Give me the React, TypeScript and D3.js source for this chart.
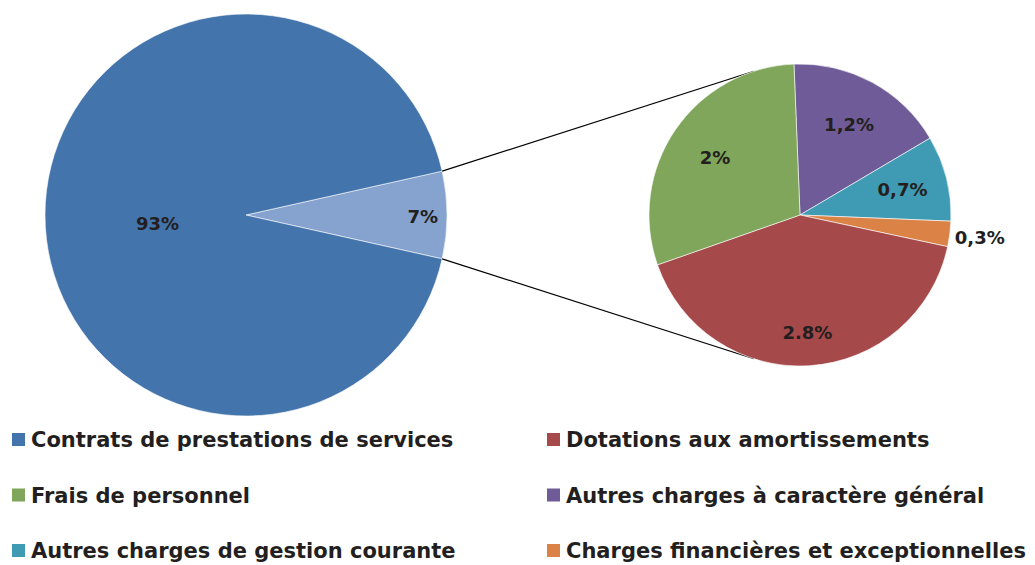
import * as d3 from "d3";

// big pie: share of total
const mainLabels = ["7%", "93%"];
const mainValues = [7, 93];
const mainColors = ["#86A2CF", "#4374AB"];

// detail of the 7% slice
const detailNames = [
  "Autres charges à caractère général",
  "Autres charges de gestion courante",
  "Charges financières et exceptionnelles",
  "Dotations aux amortissements",
  "Frais de personnel",
];
const detailValues = [1.2, 0.64, 0.19, 2.89, 2.08];
const detailLabels = ["1,2%", "0,7%", "0,3%", "2.8%", "2%"];
const detailColors = ["#6F5B97", "#3F9BB3", "#DB8347", "#A5494A", "#7FA65A"];

// legend, two columns
const legendNames = [
  "Contrats de prestations de services",
  "Dotations aux amortissements",
  "Frais de personnel",
  "Autres charges à caractère général",
  "Autres charges de gestion courante",
  "Charges financières et exceptionnelles",
];
const legendColors = ["#4374AB", "#A5494A", "#7FA65A", "#6F5B97", "#3F9BB3", "#DB8347"];

const W = 1035;
const H = 565;
const FONT = "'DejaVu Sans', sans-serif";
const TXT = "#231F20";

export default function App() {
  const rad = Math.PI / 180;

  // main pie, small slice centred on the right (east)
  const cx1 = 246, cy1 = 215, r1 = 201;
  const half = (mainValues[0] / 100) * 180;
  const mainPie = d3
    .pie<number>()
    .sort(null)
    .startAngle((90 - half) * rad)
    .endAngle((450 - half) * rad)(mainValues);
  const arc1 = d3.arc<d3.PieArcDatum<number>>().innerRadius(0).outerRadius(r1);

  // detail pie
  const cx2 = 800, cy2 = 215, r2 = 151;
  const start2 = -2.3 * rad;
  const detailPie = d3
    .pie<number>()
    .sort(null)
    .startAngle(start2)
    .endAngle(start2 + 2 * Math.PI)(detailValues);
  const arc2 = d3.arc<d3.PieArcDatum<number>>().innerRadius(0).outerRadius(r2);

  // label positions (radius fraction, per slice)
  const mainLabelPos = [
    { r: 0.88, dy: 1 },
    { r: 0.44, dy: 8 },
  ];
  const detailLabelPos = [0.68, 0.7, 1.2, 0.78, 0.68];

  // connector lines: tangents from slice edge points to the detail pie
  const s = mainPie[0];
  const edge = (a: number) => [cx1 + r1 * Math.sin(a), cy1 - r1 * Math.cos(a)];
  const tangent = (p: number[], up: boolean) => {
    const dx = cx2 - p[0], dy = cy2 - p[1];
    const d = Math.hypot(dx, dy);
    const base = Math.atan2(dy, dx);
    const off = Math.asin(r2 / d);
    const ang = up ? base - off : base + off;
    const len = Math.sqrt(d * d - r2 * r2);
    return [p[0] + len * Math.cos(ang), p[1] + len * Math.sin(ang)];
  };
  const pTop = edge(s.startAngle);
  const pBot = edge(s.endAngle);
  const tTop = tangent(pTop, true);
  const tBot = tangent(pBot, false);

  const rows = d3.scalePoint<number>().domain([0, 1, 2]).range([440, 551]);
  const cols = [12, 547];

  return (
    <svg width={W} height={H} style={{ position: "absolute", left: 0, top: 0, background: "#fff" }}>
      <g transform={`translate(${cx1},${cy1})`}>
        {mainPie.map((d, i) => (
          <path key={i} d={arc1(d) || ""} fill={mainColors[i]} stroke="#fff" strokeWidth={0.6} />
        ))}
        {mainPie.map((d, i) => {
          const a = (d.startAngle + d.endAngle) / 2;
          const rr = r1 * mainLabelPos[i].r;
          return (
            <text
              key={i}
              x={rr * Math.sin(a)}
              y={-rr * Math.cos(a) + mainLabelPos[i].dy}
              textAnchor="middle"
              dominantBaseline="central"
              fontFamily={FONT}
              fontWeight={700}
              fontSize={18}
              fill={TXT}
            >
              {mainLabels[i]}
            </text>
          );
        })}
      </g>

      <line x1={pTop[0]} y1={pTop[1]} x2={tTop[0]} y2={tTop[1]} stroke="#000" strokeWidth={1.2} />
      <line x1={pBot[0]} y1={pBot[1]} x2={tBot[0]} y2={tBot[1]} stroke="#000" strokeWidth={1.2} />

      <g transform={`translate(${cx2},${cy2})`}>
        {detailPie.map((d, i) => (
          <path key={i} d={arc2(d) || ""} fill={detailColors[i]} stroke="#fff" strokeWidth={0.6}>
            <title>{detailNames[i]}</title>
          </path>
        ))}
        {detailPie.map((d, i) => {
          const a = (d.startAngle + d.endAngle) / 2;
          const rr = r2 * detailLabelPos[i];
          return (
            <text
              key={i}
              x={rr * Math.sin(a)}
              y={-rr * Math.cos(a)}
              textAnchor="middle"
              dominantBaseline="central"
              fontFamily={FONT}
              fontWeight={700}
              fontSize={18}
              fill={TXT}
            >
              {detailLabels[i]}
            </text>
          );
        })}
      </g>

      <g>
        {legendNames.map((name, i) => {
          const x = cols[i % 2];
          const y = rows(Math.floor(i / 2)) as number;
          return (
            <g key={i} transform={`translate(${x},${y})`}>
              <rect x={0} y={-7} width={13} height={13} fill={legendColors[i]} />
              <text x={19} y={0} dominantBaseline="central" fontFamily={FONT} fontWeight={700} fontSize={21} fill={TXT}>
                {name}
              </text>
            </g>
          );
        })}
      </g>
    </svg>
  );
}
